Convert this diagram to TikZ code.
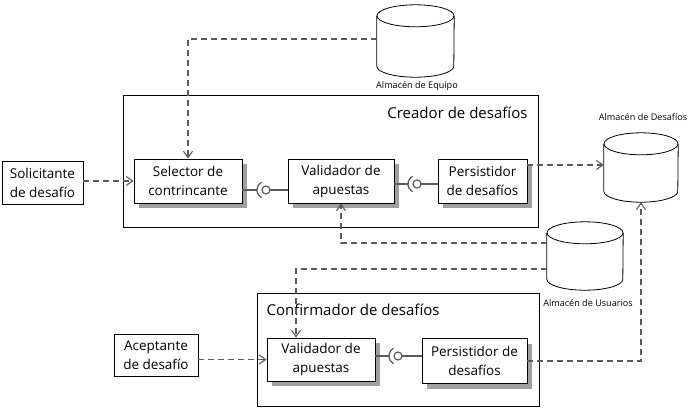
\documentclass[tikz,border=0pt]{standalone}
\usepackage{fontspec}
\setmainfont{Open Sans}
\usetikzlibrary{shadows,arrows.meta}

\definecolor{wiregray}{HTML}{5A5A5A}
\definecolor{shadegray}{HTML}{A0A0A0}

\tikzset{
  comp/.style={draw, fill=white, line width=0.8pt, align=center, inner sep=0pt,
    font=\fontsize{13.5}{19}\selectfont,
    drop shadow={shadow xshift=5pt, shadow yshift=-5pt, fill=shadegray, opacity=1}},
  actor/.style={draw, fill=white, line width=0.8pt, align=center, inner sep=0pt,
    font=\fontsize{13.5}{19}\selectfont},
  frame/.style={draw, line width=0.8pt, inner sep=0pt},
  store/.style={inner sep=0pt},
  cylline/.style={line width=0.8pt},
  small/.style={font=\fontsize{9.1}{11}\selectfont},
  wire/.style={draw=wiregray, line width=1.2pt},
  dep/.style={draw=wiregray, line width=1.1pt, dash pattern=on 6pt off 4pt,
    -{Straight Barb[length=6.5pt,width=9pt]}}
}

% cilindro sobre un nodo rectangular: #1 nodo, #2 radio x
\newcommand{\drawstore}[2]{%
  \draw[cylline] ([yshift=-11pt]#1.north west) -- ([yshift=11pt]#1.south west)
    arc[start angle=180, end angle=360, x radius=#2pt, y radius=11pt]
    -- ([yshift=-11pt]#1.north east);
  \draw[cylline] ([yshift=-11pt]#1.north) ellipse [x radius=#2pt, y radius=11pt];
}

\begin{document}
\begin{tikzpicture}[x=1pt,y=-1pt]
  \useasboundingbox (0,0) rectangle (693,408);

  % contenedores
  \node[frame, minimum width=415, minimum height=132] (creador) at (330.5,161) {};
  \node[anchor=east, font=\fontsize{15}{18}\selectfont] (tcreador) at (531,113) {Creador de desafíos};
  \node[frame, minimum width=282, minimum height=113] (confirm) at (398,349.5) {};
  \node[anchor=west, font=\fontsize{15}{18}\selectfont] (tconfirm) at (263,310) {Confirmador de desafíos};

  % componentes
  \node[comp, minimum width=108, minimum height=44] (sel) at (188,181) {Selector de\\contrincante};
  \node[comp, minimum width=106, minimum height=44] (valc) at (341,181) {Validador de\\apuestas};
  \node[comp, minimum width=89, minimum height=44] (perc) at (482.5,181) {Persistidor\\de desafíos};
  \node[comp, minimum width=108, minimum height=43] (valf) at (321,359.5) {Validador de\\apuestas};
  \node[comp, minimum width=105, minimum height=45] (perf) at (474.5,361) {Persistidor de\\desafíos};

  \node[actor, minimum width=81, minimum height=43] (sol) at (42.5,183) {Solicitante\\de desafío};
  \node[actor, minimum width=84, minimum height=42] (ace) at (156,355) {Aceptante\\de desafío};

  % almacenes
  \node[store, minimum width=77, minimum height=72] (eq) at (415.5,41) {};
  \drawstore{eq}{38.5}
  \node[small] (leq) at (417,86) {Almacén de Equipo};
  \node[store, minimum width=74, minimum height=69] (des) at (641,167.5) {};
  \drawstore{des}{37}
  \node[small] (ldes) at (643,117) {Almacén de Desafíos};
  \node[store, minimum width=76, minimum height=68] (usu) at (585,256) {};
  \drawstore{usu}{38}
  \node[small] (lusu) at (588,303) {Almacén de Usuarios};

  % interfaces
  \coordinate (b1) at (266,190);
  \coordinate (b2) at (417,184);
  \coordinate (b3) at (398,356);
  \draw[wire] ([yshift=-9pt]sel.east) -- ([xshift=-9pt]b1);
  \draw[wire] ([xshift=4pt]b1) -- (valc.west |- b1);
  \draw[wire] (b1) circle (4pt);
  \draw[wire] ([shift={(120:9pt)}]b1) arc (120:240:9pt);
  \draw[wire] ([yshift=-3pt]valc.east) -- ([xshift=-9pt]b2);
  \draw[wire] ([xshift=4pt]b2) -- (perc.west |- b2);
  \draw[wire] (b2) circle (4pt);
  \draw[wire] ([shift={(120:9pt)}]b2) arc (120:240:9pt);
  \draw[wire] (valf.east |- b3) -- ([xshift=-9pt]b3);
  \draw[wire] ([xshift=4pt]b3) -- (perf.west |- b3);
  \draw[wire] (b3) circle (4pt);
  \draw[wire] ([shift={(120:9pt)}]b3) arc (120:240:9pt);

  % dependencias
  \coordinate (e1) at ([yshift=2pt]eq.west);
  \coordinate (p1) at ([yshift=16pt]perc.east);
  \coordinate (u1) at ([yshift=13pt]usu.west);
  \coordinate (u2) at ([yshift=-13pt]usu.west);
  \draw[dep] (e1) -| (sel.north);
  \draw[dep] (sol.east |- sel.west) -- (sel.west);
  \draw[dep] (p1) -- (p1 -| des.west);
  \draw[dep] (u1) -| (valc.south);
  \draw[dep] (u2) -| ([xshift=-25pt]valf.north);
  \draw[dep] (ace.east |- valf.west) -- (valf.west);
  \draw[dep] (perf.east) -| (des.south);
\end{tikzpicture}
\end{document}
